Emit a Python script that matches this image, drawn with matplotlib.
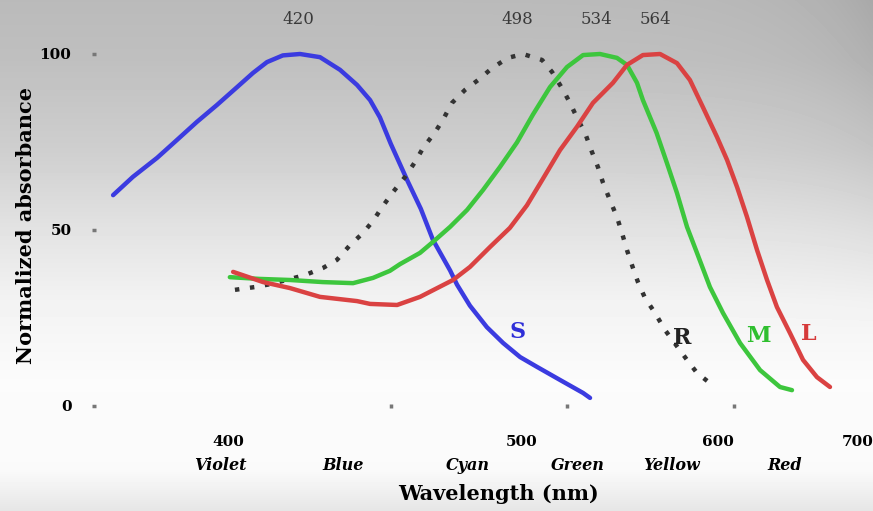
import numpy as np
import matplotlib
matplotlib.use('Agg')
import matplotlib.pyplot as plt
from matplotlib.ticker import FixedLocator, NullFormatter

# absorbance curves (wavelength in nm, normalized absorbance)
s_wl = [371.0, 375.7, 381.6, 386.6, 391.7, 397.0, 402.5, 406.9, 410.9, 415.5, 420.6, 426.7, 433.0, 438.5,
        442.8, 446.1, 449.8, 455.5, 460.4, 464.8, 471.2, 473.8, 478.8, 485.5, 492.1, 499.2, 506.5, 516.7,
        527.4, 530.7]
s_abs = [59.9, 65.1, 70.5, 75.6, 80.7, 85.5, 90.6, 94.6, 97.7, 99.6, 100.0, 99.1, 95.5, 91.2,
         86.9, 82.0, 74.5, 64.2, 56.0, 47.2, 38.5, 34.5, 28.5, 22.4, 17.9, 13.9, 11.1, 7.4,
         3.7, 2.3]

rod_wl = [401.9, 407.5, 412.3, 422.1, 427.6, 432.0, 436.2, 440.4, 443.8, 447.1, 450.6, 454.8, 458.3, 461.2,
          465.6, 468.5, 471.9, 476.9, 482.0, 487.6, 494.1, 500.4, 508.7, 513.1, 517.6, 521.3, 525.0, 528.3,
          531.6, 534.5, 537.0, 540.4, 543.9, 546.5, 549.0, 552.1, 554.7, 558.4, 563.8, 569.2, 581.6, 587.4,
          595.1]
rod_abs = [33.0, 33.8, 34.7, 37.2, 39.2, 41.5, 45.7, 49.1, 52.6, 56.8, 60.8, 65.1, 69.3, 73.3,
           77.8, 81.3, 86.1, 89.8, 92.6, 96.0, 98.9, 100.0, 98.3, 94.9, 90.3, 86.1, 81.3, 77.6,
           72.2, 67.9, 63.4, 58.5, 53.7, 49.1, 44.3, 39.2, 35.2, 30.7, 26.4, 21.6, 13.1, 9.4,
           6.5]

m_wl = [400.5, 408.9, 417.6, 427.6, 437.2, 443.8, 449.5, 453.0, 460.1, 464.8, 471.2, 477.7, 484.0, 490.8,
        497.9, 504.7, 512.2, 519.9, 527.4, 535.5, 543.9, 549.0, 554.2, 557.3, 564.6, 570.3, 575.9, 581.6,
        587.4, 595.1, 603.1, 613.8, 626.9, 640.5, 649.0]
m_abs = [36.6, 36.1, 35.8, 35.2, 34.9, 36.4, 38.4, 40.3, 43.5, 46.6, 50.9, 55.7, 61.4, 67.9,
         74.9, 82.8, 90.6, 96.3, 99.7, 100.0, 98.9, 96.9, 91.8, 86.9, 77.6, 69.0, 60.5, 50.9,
         43.5, 33.8, 26.4, 17.9, 10.2, 5.4, 4.5]

l_wl = [401.4, 409.8, 417.6, 426.7, 438.5, 442.8, 452.0, 460.1, 472.3, 478.8, 486.8, 494.9, 502.1, 509.1,
        516.7, 524.5, 532.1, 541.9, 549.0, 557.3, 566.5, 575.9, 583.3, 590.9, 599.4, 605.6, 611.9, 618.3,
        624.9, 631.6, 638.4, 647.6, 657.0, 667.4, 677.4]
l_abs = [38.1, 35.2, 33.5, 31.0, 29.8, 29.0, 28.7, 31.0, 35.8, 39.5, 45.2, 50.6, 57.0, 64.6,
         72.7, 79.3, 86.1, 91.8, 96.9, 99.7, 100.0, 97.4, 92.6, 84.9, 76.4, 69.9, 62.2, 53.7,
         44.3, 35.8, 28.1, 20.7, 13.1, 8.2, 5.4]

peaks = [420, 498, 534, 564]
x_ticks = [400, 500, 600, 700]
x_minor = [450, 520, 610]
y_ticks = [0, 50, 100]
color_names = ['Violet', 'Blue', 'Cyan', 'Green', 'Yellow', 'Red']
color_pos = [398, 434, 478, 525, 573, 644]
curve_labels = ['S', 'R', 'M', 'L']
label_pos = [(498, 21), (579, 19.3), (625.5, 20), (661, 20.5)]
label_colors = ['#2f2fd8', '#222222', '#2fbf2f', '#d63a3a']

W, H = 873, 511
fig = plt.figure(figsize=(W / 100, H / 100), dpi=100)

# grey backdrop, darker at the top
bg = fig.add_axes([0, 0, 1, 1], zorder=0)
yy = np.arange(H)[:, None]
xx = np.arange(W)[None, :]
base = np.interp(yy, [0, 60, 150, 230, 300, 380, 470, 511],
                 [0.73, 0.75, 0.81, 0.89, 0.95, 0.985, 0.98, 0.9])
edge = 0.07 * np.exp(-(W - xx) / 70.0) * np.clip(1 - yy / 330.0, 0, 1)
img = np.clip(base - edge, 0, 1)
bg.imshow(img, cmap='gray', vmin=0, vmax=1, aspect='auto', interpolation='bilinear')
bg.axis('off')

ax = fig.add_axes([0, 0, 1, 1], zorder=1)
ax.patch.set_alpha(0)


def fwd(x):
    with np.errstate(divide='ignore'):
        return -1.0 / np.asarray(x, dtype=float)


ax.set_xscale('function', functions=(fwd, fwd))
ax.set_xlim(588000 / 1698, 588000 / 825)
ax.set_ylim(-29.83, 115.34)

lw = 3.2
ax.plot(s_wl, s_abs, color='#3b3be0', lw=lw, solid_capstyle='round', solid_joinstyle='round')
ax.plot(rod_wl, rod_abs, color='#333333', lw=lw, linestyle=(0, (1, 2.4)))
ax.plot(m_wl, m_abs, color='#3dc63d', lw=lw, solid_capstyle='round', solid_joinstyle='round')
ax.plot(l_wl, l_abs, color='#da4242', lw=lw, solid_capstyle='round', solid_joinstyle='round')

serif = 'DejaVu Serif'
for sp in ax.spines.values():
    sp.set_visible(False)
ax.spines['left'].set_position(('data', 588000 / 1604))
ax.spines['bottom'].set_position(('data', 0))

ax.set_yticks(y_ticks)
ax.tick_params(axis='y', direction='inout', length=2.5, width=2.5, color='#777777',
               pad=15, labelsize=11)
ax.set_xticks(x_ticks)
ax.xaxis.set_minor_locator(FixedLocator(x_minor))
ax.xaxis.set_minor_formatter(NullFormatter())
ax.tick_params(axis='x', which='major', length=0, pad=21, labelsize=11)
ax.tick_params(axis='x', which='minor', direction='inout', length=2.5, width=2.5, color='#777777')
for t in ax.get_xticklabels() + ax.get_yticklabels():
    t.set_fontfamily(serif)
    t.set_fontweight('bold')

for name, p in zip(color_names, color_pos):
    ax.text(p, -16.8, name, ha='center', va='center', fontsize=11.5, family=serif,
            fontweight='bold', fontstyle='italic')

for p in peaks:
    ax.text(p, 109.7, str(p), ha='center', va='center', fontsize=12, family=serif,
            color='#3a3a3a')

for lab, (px, py), c in zip(curve_labels, label_pos, label_colors):
    ax.text(px, py, lab, ha='center', va='center', fontsize=16, family=serif,
            fontweight='bold', color=c)

fig.text(498 / W, 1 - 494 / H, 'Wavelength (nm)', ha='center', va='center', fontsize=15,
         family=serif, fontweight='bold')
fig.text(26 / W, 1 - 225 / H, 'Normalized absorbance', ha='center', va='center', fontsize=15,
         family=serif, fontweight='bold', rotation=90)

fig.savefig('out.png', dpi=100)
